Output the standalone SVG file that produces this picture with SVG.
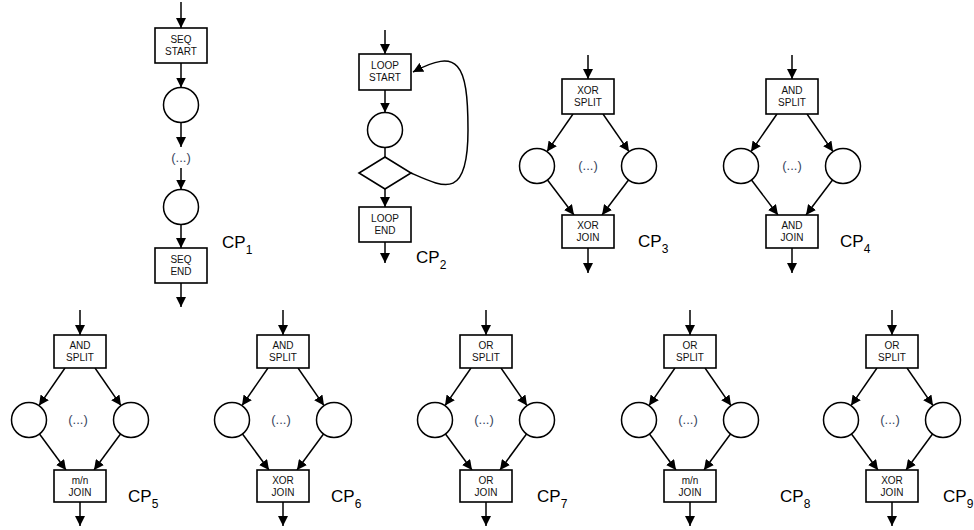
<svg xmlns="http://www.w3.org/2000/svg" width="974" height="530" viewBox="0 0 974 530">
<defs>
<marker id="ah" markerUnits="userSpaceOnUse" markerWidth="10" markerHeight="10" refX="10" refY="5" orient="auto">
<path d="M0,0 L10,5 L0,10 z" fill="#000"/>
</marker>
<style>
.box{fill:#fff;stroke:#000;stroke-width:1.6}
.circ{fill:#fff;stroke:#000;stroke-width:1.5}
.c{fill:none;stroke:#000;stroke-width:1.5}
.a{fill:none;stroke:#000;stroke-width:1.5;marker-end:url(#ah)}
.t{font-family:"Liberation Sans",Arial,sans-serif;font-size:10px;fill:#111;text-anchor:middle}
.d{font-family:"Liberation Sans",Arial,sans-serif;font-size:13px;fill:#3a4560;text-anchor:middle}
.cp{font-family:"Liberation Sans",Arial,sans-serif;font-size:17px;fill:#000}
.sub{font-size:12px}
</style>
</defs>
<rect width="974" height="530" fill="#fff"/>

<!-- connectors -->
<g id="connectors">
<!-- CP1 -->
<line class="a" x1="181" y1="2" x2="181" y2="28"/>
<line class="a" x1="181" y1="63" x2="181" y2="87.5"/>
<line class="a" x1="181" y1="122.5" x2="181" y2="147"/>
<line class="a" x1="181" y1="168" x2="181" y2="189.5"/>
<line class="a" x1="181" y1="224.5" x2="181" y2="248"/>
<line class="a" x1="181" y1="283" x2="181" y2="307"/>
<!-- CP2 -->
<line class="a" x1="385" y1="30" x2="385" y2="54"/>
<line class="a" x1="385" y1="90" x2="385" y2="112.5"/>
<line class="c" x1="385" y1="147.5" x2="385" y2="157"/>
<line class="a" x1="385" y1="189" x2="385" y2="207"/>
<line class="a" x1="385" y1="242" x2="385" y2="263"/>
<path class="a" d="M411,173 C445,188 468,200 468,130 C468,62 458,48 413,72"/>
<!-- CP3 cx=588 -->
<line class="a" x1="588" y1="55" x2="588" y2="79"/>
<line class="a" x1="573" y1="114" x2="547" y2="151.6"/>
<line class="a" x1="603" y1="114" x2="629" y2="151.6"/>
<line class="a" x1="547.5" y1="180" x2="574" y2="215"/>
<line class="a" x1="628.5" y1="180" x2="602" y2="215"/>
<line class="a" x1="588" y1="248" x2="588" y2="273"/>
<!-- CP4 cx=792 -->
<line class="a" x1="792" y1="55" x2="792" y2="79"/>
<line class="a" x1="777" y1="114" x2="751" y2="151.6"/>
<line class="a" x1="807" y1="114" x2="833" y2="151.6"/>
<line class="a" x1="751.5" y1="180" x2="778" y2="215"/>
<line class="a" x1="832.5" y1="180" x2="806" y2="215"/>
<line class="a" x1="792" y1="248" x2="792" y2="273"/>
<!-- CP5 cx=80 -->
<line class="a" x1="80" y1="310" x2="80" y2="335"/>
<line class="a" x1="65" y1="368" x2="39" y2="405.6"/>
<line class="a" x1="95" y1="368" x2="121" y2="405.6"/>
<line class="a" x1="39.5" y1="434" x2="66" y2="470"/>
<line class="a" x1="120.5" y1="434" x2="94" y2="470"/>
<line class="a" x1="80" y1="502" x2="80" y2="526"/>
<!-- CP6 cx=283 -->
<line class="a" x1="283" y1="310" x2="283" y2="335"/>
<line class="a" x1="268" y1="368" x2="242" y2="405.6"/>
<line class="a" x1="298" y1="368" x2="324" y2="405.6"/>
<line class="a" x1="242.5" y1="434" x2="269" y2="470"/>
<line class="a" x1="323.5" y1="434" x2="297" y2="470"/>
<line class="a" x1="283" y1="502" x2="283" y2="526"/>
<!-- CP7 cx=486 -->
<line class="a" x1="486" y1="310" x2="486" y2="335"/>
<line class="a" x1="471" y1="368" x2="445" y2="405.6"/>
<line class="a" x1="501" y1="368" x2="527" y2="405.6"/>
<line class="a" x1="445.5" y1="434" x2="472" y2="470"/>
<line class="a" x1="526.5" y1="434" x2="500" y2="470"/>
<line class="a" x1="486" y1="502" x2="486" y2="526"/>
<!-- CP8 cx=690 -->
<line class="a" x1="690" y1="310" x2="690" y2="335"/>
<line class="a" x1="675" y1="368" x2="649" y2="405.6"/>
<line class="a" x1="705" y1="368" x2="731" y2="405.6"/>
<line class="a" x1="649.5" y1="434" x2="676" y2="470"/>
<line class="a" x1="730.5" y1="434" x2="704" y2="470"/>
<line class="a" x1="690" y1="502" x2="690" y2="526"/>
<!-- CP9 cx=892 -->
<line class="a" x1="892" y1="310" x2="892" y2="335"/>
<line class="a" x1="877" y1="368" x2="851" y2="405.6"/>
<line class="a" x1="907" y1="368" x2="933" y2="405.6"/>
<line class="a" x1="851.5" y1="434" x2="878" y2="470"/>
<line class="a" x1="932.5" y1="434" x2="906" y2="470"/>
<line class="a" x1="892" y1="502" x2="892" y2="526"/>
</g>

<!-- CP1 nodes -->
<g id="cp1-seq-start"><rect class="box" x="155" y="28" width="52" height="35"/><text class="t" x="181" y="43">SEQ</text><text class="t" x="181" y="55">START</text></g>
<g id="cp1-act1"><circle class="circ" cx="181" cy="105" r="17.5"/></g>
<g id="cp1-dots"><text class="d" x="181" y="162">(...)</text></g>
<g id="cp1-act2"><circle class="circ" cx="181" cy="207" r="17.5"/></g>
<g id="cp1-seq-end"><rect class="box" x="155" y="248" width="52" height="35"/><text class="t" x="181" y="263">SEQ</text><text class="t" x="181" y="275">END</text></g>
<text class="cp" x="222" y="248">CP<tspan class="sub" dy="6">1</tspan></text>

<!-- CP2 nodes -->
<g id="cp2-loop-start"><rect class="box" x="359" y="54" width="52" height="36"/><text class="t" x="385" y="69">LOOP</text><text class="t" x="385" y="81">START</text></g>
<g id="cp2-act"><circle class="circ" cx="385" cy="130" r="17.5"/></g>
<g id="cp2-decision"><polygon class="box" points="385,157 411,173 385,189 359,173"/></g>
<g id="cp2-loop-end"><rect class="box" x="359" y="207" width="52" height="35"/><text class="t" x="385" y="222">LOOP</text><text class="t" x="385" y="234">END</text></g>
<text class="cp" x="416" y="263">CP<tspan class="sub" dy="6">2</tspan></text>

<!-- CP3 nodes -->
<g id="cp3-split"><rect class="box" x="562" y="79" width="52" height="35"/><text class="t" x="588" y="94">XOR</text><text class="t" x="588" y="106">SPLIT</text></g>
<g id="cp3-act1"><circle class="circ" cx="537" cy="166" r="17.5"/></g>
<g id="cp3-act2"><circle class="circ" cx="639" cy="166" r="17.5"/></g>
<g id="cp3-dots"><text class="d" x="588" y="170">(...)</text></g>
<g id="cp3-join"><rect class="box" x="562" y="215" width="52" height="33"/><text class="t" x="588" y="229">XOR</text><text class="t" x="588" y="241">JOIN</text></g>
<text class="cp" x="638" y="247">CP<tspan class="sub" dy="6">3</tspan></text>

<!-- CP4 nodes -->
<g id="cp4-split"><rect class="box" x="766" y="79" width="52" height="35"/><text class="t" x="792" y="94">AND</text><text class="t" x="792" y="106">SPLIT</text></g>
<g id="cp4-act1"><circle class="circ" cx="741" cy="166" r="17.5"/></g>
<g id="cp4-act2"><circle class="circ" cx="843" cy="166" r="17.5"/></g>
<g id="cp4-dots"><text class="d" x="792" y="170">(...)</text></g>
<g id="cp4-join"><rect class="box" x="766" y="215" width="52" height="33"/><text class="t" x="792" y="229">AND</text><text class="t" x="792" y="241">JOIN</text></g>
<text class="cp" x="840" y="247">CP<tspan class="sub" dy="6">4</tspan></text>

<!-- CP5 nodes -->
<g id="cp5-split"><rect class="box" x="54" y="335" width="52" height="33"/><text class="t" x="80" y="349">AND</text><text class="t" x="80" y="361">SPLIT</text></g>
<g id="cp5-act1"><circle class="circ" cx="29" cy="420" r="17.5"/></g>
<g id="cp5-act2"><circle class="circ" cx="131" cy="420" r="17.5"/></g>
<g id="cp5-dots"><text class="d" x="78" y="424">(...)</text></g>
<g id="cp5-join"><rect class="box" x="54" y="470" width="52" height="32"/><text class="t" x="80" y="484">m/n</text><text class="t" x="80" y="496">JOIN</text></g>
<text class="cp" x="128" y="502">CP<tspan class="sub" dy="6">5</tspan></text>

<!-- CP6 nodes -->
<g id="cp6-split"><rect class="box" x="257" y="335" width="52" height="33"/><text class="t" x="283" y="349">AND</text><text class="t" x="283" y="361">SPLIT</text></g>
<g id="cp6-act1"><circle class="circ" cx="232" cy="420" r="17.5"/></g>
<g id="cp6-act2"><circle class="circ" cx="334" cy="420" r="17.5"/></g>
<g id="cp6-dots"><text class="d" x="281" y="424">(...)</text></g>
<g id="cp6-join"><rect class="box" x="257" y="470" width="52" height="32"/><text class="t" x="283" y="484">XOR</text><text class="t" x="283" y="496">JOIN</text></g>
<text class="cp" x="331" y="502">CP<tspan class="sub" dy="6">6</tspan></text>

<!-- CP7 nodes -->
<g id="cp7-split"><rect class="box" x="460" y="335" width="52" height="33"/><text class="t" x="486" y="349">OR</text><text class="t" x="486" y="361">SPLIT</text></g>
<g id="cp7-act1"><circle class="circ" cx="435" cy="420" r="17.5"/></g>
<g id="cp7-act2"><circle class="circ" cx="537" cy="420" r="17.5"/></g>
<g id="cp7-dots"><text class="d" x="484" y="424">(...)</text></g>
<g id="cp7-join"><rect class="box" x="460" y="470" width="52" height="32"/><text class="t" x="486" y="484">OR</text><text class="t" x="486" y="496">JOIN</text></g>
<text class="cp" x="537" y="502">CP<tspan class="sub" dy="6">7</tspan></text>

<!-- CP8 nodes -->
<g id="cp8-split"><rect class="box" x="664" y="335" width="52" height="33"/><text class="t" x="690" y="349">OR</text><text class="t" x="690" y="361">SPLIT</text></g>
<g id="cp8-act1"><circle class="circ" cx="639" cy="420" r="17.5"/></g>
<g id="cp8-act2"><circle class="circ" cx="741" cy="420" r="17.5"/></g>
<g id="cp8-dots"><text class="d" x="688" y="424">(...)</text></g>
<g id="cp8-join"><rect class="box" x="664" y="470" width="52" height="32"/><text class="t" x="690" y="484">m/n</text><text class="t" x="690" y="496">JOIN</text></g>
<text class="cp" x="780" y="502">CP<tspan class="sub" dy="6">8</tspan></text>

<!-- CP9 nodes -->
<g id="cp9-split"><rect class="box" x="866" y="335" width="52" height="33"/><text class="t" x="892" y="349">OR</text><text class="t" x="892" y="361">SPLIT</text></g>
<g id="cp9-act1"><circle class="circ" cx="841" cy="420" r="17.5"/></g>
<g id="cp9-act2"><circle class="circ" cx="943" cy="420" r="17.5"/></g>
<g id="cp9-dots"><text class="d" x="890" y="424">(...)</text></g>
<g id="cp9-join"><rect class="box" x="866" y="470" width="52" height="32"/><text class="t" x="892" y="484">XOR</text><text class="t" x="892" y="496">JOIN</text></g>
<text class="cp" x="943" y="502">CP<tspan class="sub" dy="6">9</tspan></text>
</svg>
